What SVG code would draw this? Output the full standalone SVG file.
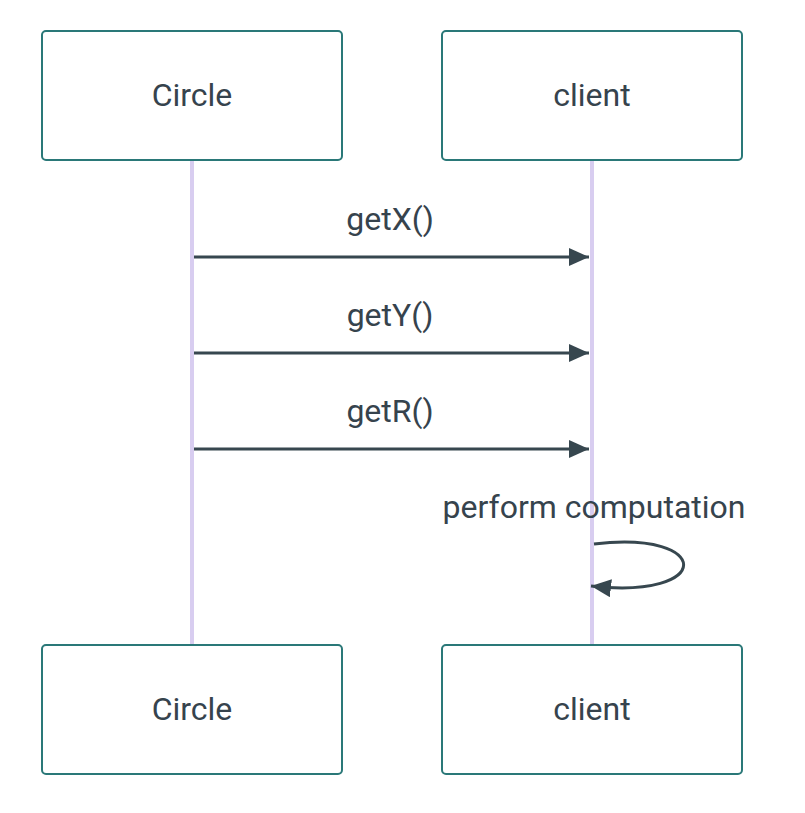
<svg xmlns="http://www.w3.org/2000/svg" width="805" height="813" viewBox="0 0 805 813">
<defs>
<style>
.box{fill:#ffffff;stroke:#2a7878;stroke-width:2}
.lbl{font-family:Roboto,"Liberation Sans",sans-serif;font-size:32px;fill:#36434d;text-anchor:middle;dominant-baseline:central}
.life{stroke:#d8cdf0;stroke-width:4;fill:none}
.msg{stroke:#37474f;stroke-width:3;fill:none}
</style>
<marker id="ah" markerUnits="userSpaceOnUse" viewBox="0 0 20 18" markerWidth="20" markerHeight="18" refX="20" refY="9" orient="auto">
<path d="M0,0 L20,9 L0,18 Z" fill="#37474f"/>
</marker>
</defs>
<rect width="805" height="813" fill="#ffffff"/>
<g id="lifelines">
<line class="life" x1="192" y1="160" x2="192" y2="645"/>
<line class="life" x1="592" y1="160" x2="592" y2="645"/>
</g>
<g id="circle-top"><rect class="box" x="42" y="31" width="300" height="129" rx="4"/><text class="lbl" x="192" y="95">Circle</text></g>
<g id="client-top"><rect class="box" x="442" y="31" width="300" height="129" rx="4"/><text class="lbl" x="592" y="95">client</text></g>
<g id="circle-bottom"><rect class="box" x="42" y="645" width="300" height="129" rx="4"/><text class="lbl" x="192" y="709">Circle</text></g>
<g id="client-bottom"><rect class="box" x="442" y="645" width="300" height="129" rx="4"/><text class="lbl" x="592" y="709">client</text></g>
<g id="connectors">
<line class="msg" x1="194" y1="257" x2="589" y2="257" marker-end="url(#ah)"/>
<line class="msg" x1="194" y1="353" x2="589" y2="353" marker-end="url(#ah)"/>
<line class="msg" x1="194" y1="449" x2="589" y2="449" marker-end="url(#ah)"/>
<path class="msg" d="M594,544 C714,530 714,600 591,586" marker-end="url(#ah)"/>
<text class="lbl" x="390" y="219">getX()</text>
<text class="lbl" x="390" y="315">getY()</text>
<text class="lbl" x="390" y="411">getR()</text>
<text class="lbl" x="594" y="507">perform computation</text>
</g>
</svg>
